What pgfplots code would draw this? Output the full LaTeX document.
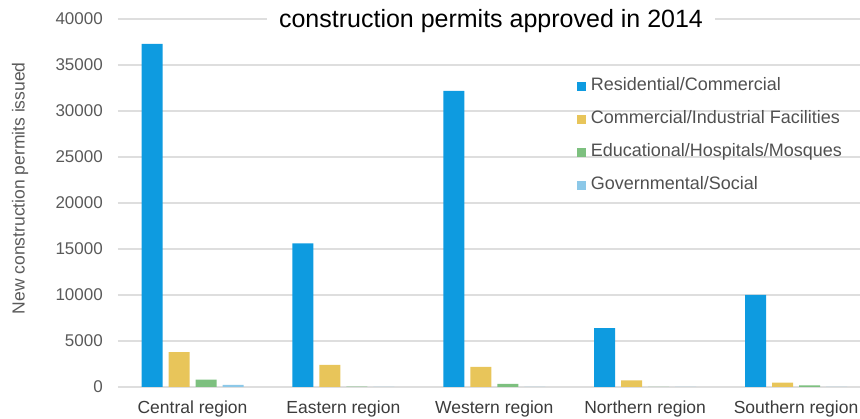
\documentclass[border=0pt]{standalone}
\usepackage{fontspec}
\setmainfont{Liberation Sans}
\usepackage{pgfplots}
\pgfplotsset{compat=1.18}
\definecolor{cRes}{RGB}{14,155,224}
\definecolor{cCom}{RGB}{232,197,90}
\definecolor{cEdu}{RGB}{125,192,127}
\definecolor{cGov}{RGB}{140,200,232}
\definecolor{cGrid}{RGB}{222,222,222}
\definecolor{cTick}{RGB}{90,90,90}
\definecolor{cLab}{RGB}{60,60,60}
\definecolor{cLeg}{RGB}{80,80,80}
\begin{document}
\begin{tikzpicture}[x=1pt,y=1pt]
\useasboundingbox (-118,-32) rectangle (742,387);
\begin{axis}[
  at={(0,0)}, anchor=south west,
  scale only axis, width=742pt, height=368pt,
  ymin=0, ymax=40000, xmin=-0.494, xmax=4.424,
  ybar=6pt, bar width=21pt,
  axis line style={draw=none},
  major tick length=0pt,
  ymajorgrids, grid style={cGrid, line width=1.2pt},
  xtick={0,1,2,3,4},
  xticklabels={Central region, Eastern region, Western region, Northern region, Southern region},
  ytick={0,5000,...,40000},
  scaled y ticks=false,
  /pgf/number format/1000 sep={},
  /pgf/number format/assume math mode=true,
  yticklabel style={font=\fontsize{17}{20}\selectfont, text=cTick, inner sep=0pt, xshift=-15pt},
  xticklabel style={font=\fontsize{17.5}{20}\selectfont, text=cLab, inner sep=0pt, yshift=-14pt},
  ylabel={New construction permits issued},
  every axis y label/.style={at={(axis description cs:-0.132,0.54)}, rotate=90, anchor=center},
  ylabel style={font=\fontsize{17.5}{20}\selectfont, text=cTick},
  title={construction permits approved in 2014},
  title style={at={(axis description cs:0.5027,0.977)}, anchor=center, fill=white, font=\fontsize{25}{29}\selectfont, inner xsep=12pt, inner ysep=3pt},
  legend style={at={(axis description cs:0.614,0.845)}, anchor=north west, draw=none, fill=none,
    font=\fontsize{18}{21}\selectfont, text=cLeg, row sep=17pt,
    nodes={inner sep=0pt, text height=12pt, text depth=4pt},
    /tikz/every odd column/.append style={column sep=5pt}},
  legend cell align=left,
  legend image code/.code={\fill[#1] (0pt,-4.5pt) rectangle (9pt,4.5pt);},
]
\addplot[fill=cRes, draw=none] coordinates {(0,37300) (1,15600) (2,32200) (3,6400) (4,10000)};
\addplot[fill=cCom, draw=none] coordinates {(0,3800) (1,2400) (2,2200) (3,720) (4,470)};
\addplot[fill=cEdu, draw=none] coordinates {(0,800) (1,30) (2,350) (3,20) (4,180)};
\addplot[fill=cGov, draw=none] coordinates {(0,230) (1,20) (2,20) (3,10) (4,20)};
\legend{Residential/Commercial, Commercial/Industrial Facilities, Educational/Hospitals/Mosques, Governmental/Social}
\end{axis}
\end{tikzpicture}
\end{document}
